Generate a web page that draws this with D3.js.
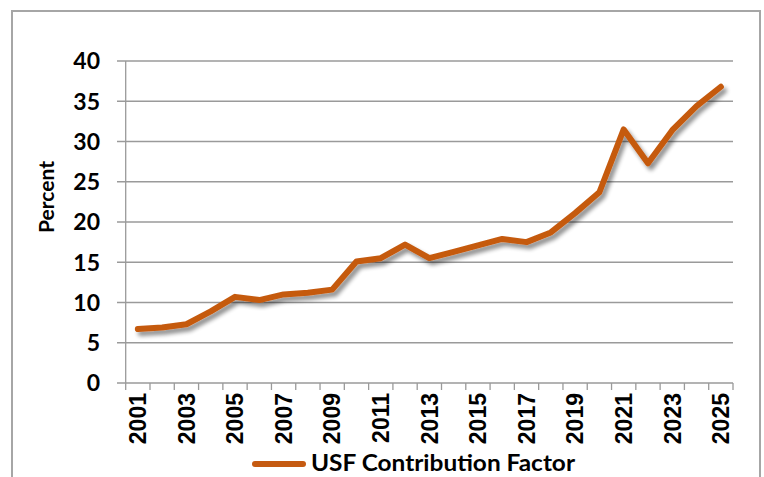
<!DOCTYPE html>
<html>
<head>
<meta charset="utf-8">
<title>USF Contribution Factor</title>
<script src="https://d3js.org/d3.v7.min.js"></script>
<style>
  body { margin: 0; background: #fff; }
  svg { display: block; }
</style>
</head>
<body>
<div id="chart"></div>
<script>
// data
var years = ["2001","2002","2003","2004","2005","2006","2007","2008","2009","2010","2011","2012","2013",
             "2014","2015","2016","2017","2018","2019","2020","2021","2022","2023","2024","2025"];
var usfFactor = [6.7, 6.9, 7.3, 8.9, 10.7, 10.3, 11.0, 11.2, 11.6, 15.1, 15.5, 17.2, 15.5,
                 16.3, 17.1, 17.9, 17.5, 18.7, 21.1, 23.7, 31.5, 27.3, 31.4, 34.4, 36.8];
var yTicks = [0, 5, 10, 15, 20, 25, 30, 35, 40];
var seriesName = "USF Contribution Factor";

var W = 764, H = 477;
var lineColor = "#C55A11";

var svg = d3.select("#chart").append("svg")
    .attr("width", W)
    .attr("height", H);

// drop shadow under the line
var defs = svg.append("defs");
var f = defs.append("filter").attr("id", "shadow")
    .attr("x", "-10%").attr("y", "-10%").attr("width", "130%").attr("height", "130%");
f.append("feGaussianBlur").attr("in", "SourceAlpha").attr("stdDeviation", 2.2);
f.append("feOffset").attr("dx", 3).attr("dy", 4).attr("result", "off");
f.append("feComponentTransfer").append("feFuncA").attr("type", "linear").attr("slope", 0.45);
var m = f.append("feMerge");
m.append("feMergeNode");
m.append("feMergeNode").attr("in", "SourceGraphic");

// chart frame
svg.append("rect")
    .attr("x", 12).attr("y", 11)
    .attr("width", 748).attr("height", 480)
    .attr("fill", "none")
    .attr("stroke", "#a6a6a6")
    .attr("stroke-width", 2);

var x = d3.scaleBand().domain(years).range([125.7, 733]).padding(0);
var y = d3.scaleLinear().domain([0, 40]).range([383, 61]);

// gridlines + y ticks
svg.append("g").selectAll("line")
  .data(yTicks)
  .enter().append("line")
    .attr("x1", 117).attr("x2", 733)
    .attr("y1", function (d) { return y(d); })
    .attr("y2", function (d) { return y(d); })
    .attr("stroke", "#9a9a9a")
    .attr("stroke-width", 1.3);

// y axis line
svg.append("line")
    .attr("x1", x.range()[0]).attr("x2", x.range()[0])
    .attr("y1", y(40)).attr("y2", y(0))
    .attr("stroke", "#9a9a9a").attr("stroke-width", 1.3);

// y tick labels
svg.append("g").selectAll("text")
  .data(yTicks)
  .enter().append("text")
    .attr("x", 100)
    .attr("y", function (d) { return y(d); })
    .attr("dy", "0.36em")
    .attr("text-anchor", "end")
    .style("font-family", "Lato, 'Open Sans', sans-serif")
    .style("font-weight", "bold")
    .style("font-size", "23px")
    .attr("fill", "#000")
    .text(function (d) { return d; });

// x tick marks on band edges
var edges = years.map(function (d) { return x(d); }).concat([x.range()[1]]);
svg.append("g").selectAll("line")
  .data(edges)
  .enter().append("line")
    .attr("x1", function (d) { return d; })
    .attr("x2", function (d) { return d; })
    .attr("y1", y(0)).attr("y2", y(0) + 7)
    .attr("stroke", "#9a9a9a").attr("stroke-width", 1.3);

// x labels, every second year, rotated
svg.append("g").selectAll("text")
  .data(years.filter(function (d, i) { return i % 2 === 0; }))
  .enter().append("text")
    .attr("transform", function (d) {
      return "translate(" + (x(d) + x.bandwidth() / 2) + "," + 393 + ") rotate(-90)";
    })
    .attr("dy", "0.36em")
    .attr("text-anchor", "end")
    .style("font-family", "'Liberation Sans', Arial, sans-serif")
    .style("font-weight", "bold")
    .style("font-size", "23px")
    .attr("fill", "#000")
    .text(function (d) { return d; });

// axis title
svg.append("text")
    .attr("transform", "translate(46,197) rotate(-90)")
    .attr("dy", "0.36em")
    .attr("text-anchor", "middle")
    .style("font-family", "Lato, 'Open Sans', sans-serif")
    .style("font-weight", "bold")
    .style("font-size", "21px")
    .text("Percent");

// the series
var line = d3.line()
    .x(function (d, i) { return x(years[i]) + x.bandwidth() / 2; })
    .y(function (d) { return y(d); });

svg.append("path")
    .datum(usfFactor)
    .attr("d", line)
    .attr("fill", "none")
    .attr("stroke", lineColor)
    .attr("stroke-width", 6)
    .attr("stroke-linejoin", "round")
    .attr("stroke-linecap", "round")
    .attr("filter", "url(#shadow)");

// legend
svg.append("line")
    .attr("x1", 255).attr("x2", 303)
    .attr("y1", 464).attr("y2", 464)
    .attr("stroke", lineColor)
    .attr("stroke-width", 6)
    .attr("stroke-linecap", "round");

svg.append("text")
    .attr("x", 311)
    .attr("y", 471)
    .attr("textLength", 264)
    .attr("lengthAdjust", "spacingAndGlyphs")
    .style("font-family", "Lato, 'Open Sans', sans-serif")
    .style("font-weight", "bold")
    .style("font-size", "23px")
    .text(seriesName);
</script>
</body>
</html>
